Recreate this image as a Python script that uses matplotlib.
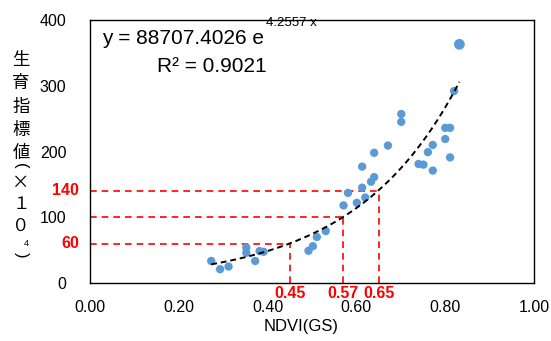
import numpy as np
import matplotlib
matplotlib.use('Agg')
import matplotlib.pyplot as plt

plt.rcParams['font.family'] = ['Liberation Sans', 'DejaVu Sans']

# NDVI(GS) vs growth index (x10^4)
ndvi = [0.273, 0.293, 0.312, 0.352, 0.352, 0.372, 0.382, 0.391, 0.492, 0.502,
        0.511, 0.531, 0.571, 0.581, 0.601, 0.613, 0.613, 0.620, 0.633, 0.640,
        0.640, 0.671, 0.701, 0.701, 0.740, 0.751, 0.761, 0.772, 0.772, 0.800,
        0.800, 0.811, 0.811, 0.820, 0.832]
growth = [33.5, 21, 25, 54, 46, 33.5, 48.5, 47.5, 49, 56,
          70, 79, 118, 137, 122, 145, 177, 130, 154, 161,
          198, 209, 245, 257, 181, 180, 199, 210, 171, 219,
          236, 236, 191, 292, 363]

# exponential trendline, y = 88707.4026 e^(4.2557x), plotted in units of 10^4
coef_a = 88707.4026 / 1e4
coef_b = 4.2557

ref_x = [0.45, 0.57, 0.65]
ref_y = [60, 100, 140]
ref_y_labels = [60, 140]

xticks = [0.0, 0.2, 0.4, 0.6, 0.8, 1.0]
yticks = [0, 100, 200, 300, 400]

fig = plt.figure(figsize=(5.51, 3.41), dpi=100)
ax = fig.add_axes([90 / 551, 58 / 341, 444 / 551, 263 / 341])

red = '#FF0000'
for xv, yv in zip(ref_x, ref_y):
    ax.plot([0, xv], [yv, yv], color=red, lw=1.2, ls=(0, (4, 3)), zorder=1)
    ax.plot([xv, xv], [0, yv], color=red, lw=1.2, ls=(0, (4, 3)), zorder=1)

ax.scatter(ndvi, growth, s=36, color='#5B9BD5', edgecolors='none', zorder=3)
# the top point is drawn larger in the original
ax.scatter(ndvi[-1:], growth[-1:], s=60, color='#5B9BD5', edgecolors='none',
           zorder=3)

tx = np.linspace(min(ndvi), max(ndvi), 200)
ax.plot(tx, coef_a * np.exp(coef_b * tx), color='black', lw=1.4,
        ls=(0, (3, 2)), zorder=4)

ax.set_xlim(0, 1.0)
ax.set_ylim(0, 400)
ax.set_xticks(xticks)
ax.set_xticklabels([f'{v:.2f}' for v in xticks], fontsize=11.5)
ax.set_yticks(yticks)
ax.set_yticklabels([str(v) for v in yticks], fontsize=11.5)
ax.tick_params(axis='x', length=0, pad=12)
ax.tick_params(axis='y', length=0, pad=17)
for sp in ax.spines.values():
    sp.set_color('black')
    sp.set_linewidth(1.0)

# red reference labels
for yv in ref_y_labels:
    ax.annotate(str(yv), xy=(0, yv), xycoords=('axes fraction', 'data'),
                xytext=(-8, 0), textcoords='offset points', ha='right',
                va='center', color=red, fontsize=11.5, fontweight='bold')
for xv in ref_x:
    ax.annotate(f'{xv:.2f}', xy=(xv, 0), xycoords=('data', 'axes fraction'),
                xytext=(0, -2), textcoords='offset points', ha='center',
                va='top', color=red, fontsize=11.5, fontweight='bold')

ax.set_xlabel('NDVI(GS)', fontsize=12)
ax.xaxis.set_label_coords(0.476, -0.135)

# equation
fig.text(102 / 551, 1 - 39 / 341, 'y = 88707.4026 e', fontsize=15, va='center')
fig.text(266 / 551, 1 - 23 / 341, '4.2557 x', fontsize=9.5, va='center')
fig.text(157 / 551, 1 - 67 / 341, 'R² = 0.9021', fontsize=15, va='center')

# vertical y label
ylab_chars = ['生', '育', '指', '標', '値', '×', '１', '０']
ylab_pos = [60, 83, 107, 130, 153, 183, 204, 226]
for ch, py in zip(ylab_chars, ylab_pos):
    fig.text(21 / 551, 1 - py / 341, ch, fontsize=12.5, ha='center', va='center',
             family=['Noto Sans CJK JP', 'DejaVu Sans'])
fig.text(21 / 551, 1 - 166 / 341, '(', fontsize=12, ha='center', va='center',
         rotation=-90)
fig.text(21 / 551, 1 - 255 / 341, ')', fontsize=12, ha='center', va='center',
         rotation=-90)
fig.text(26 / 551, 1 - 243 / 341, '4', fontsize=6.5, ha='center', va='center')

fig.savefig('out.png', dpi=100)
